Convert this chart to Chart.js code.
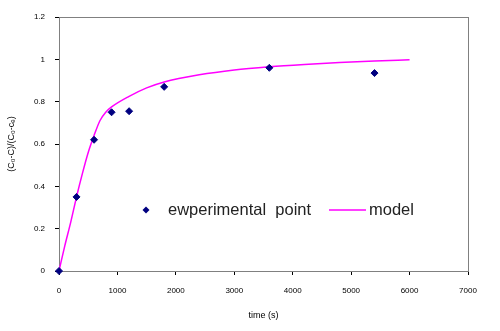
<!DOCTYPE html>
<html>
<head>
<meta charset="utf-8">
<script src="https://cdn.jsdelivr.net/npm/chart.js@4/dist/chart.umd.min.js"></script>
<style>
  html, body { margin: 0; padding: 0; background: #fff; }
  #wrap { width: 500px; height: 331px; }
</style>
</head>
<body>
<div id="wrap"><canvas id="c"></canvas></div>
<script>
// measured points (time in s, normalised concentration)
const timeExp = [0, 300, 600, 900, 1200, 1800, 3600, 5400];
const ratioExp = [0, 0.35, 0.62, 0.75, 0.755, 0.87, 0.96, 0.935];

// model curve
const timeModel = [0, 100, 200, 300, 400, 500, 600, 700, 800, 900, 1200, 1500, 1800, 2400, 3000, 3600, 4200, 4800, 5400, 6000];
const ratioModel = [0, 0.12, 0.23, 0.35, 0.46, 0.56, 0.64, 0.71, 0.75, 0.775, 0.825, 0.865, 0.893, 0.927, 0.95, 0.965, 0.976, 0.985, 0.992, 0.998];

const xTicks = [0, 1000, 2000, 3000, 4000, 5000, 6000, 7000];
const yTicks = [0, 0.2, 0.4, 0.6, 0.8, 1, 1.2];

const FONT = 'Liberation Sans, Arial, sans-serif';
const POINT_COLOR = '#000080';
const LINE_COLOR = '#ff00ff';

const toXY = (xs, ys) => xs.map((x, i) => ({ x, y: ys[i] }));

// grey frame round the plot (top/right), drawn before the datasets
const framePlugin = {
    id: 'frame',
    beforeDatasetsDraw(chart) {
        const { ctx, chartArea: a } = chart;
        ctx.save();
        ctx.strokeStyle = '#808080';
        ctx.lineWidth = 1;
        ctx.strokeRect(a.left + 0.5, a.top + 0.5, a.right - a.left, a.bottom - a.top);
        ctx.restore();
    },
};

// legend sits inside the plot, in one row, like the original spreadsheet chart
const innerLegend = {
    id: 'innerLegend',
    afterDraw(chart) {
        const { ctx } = chart;
        const ds = chart.data.datasets;
        const y = 210;
        ctx.save();
        ctx.font = '16.5px ' + FONT;
        ctx.textBaseline = 'middle';

        // diamond marker
        const mx = 146, r = 3.5;
        ctx.fillStyle = POINT_COLOR;
        ctx.beginPath();
        ctx.moveTo(mx, y - r); ctx.lineTo(mx + r, y); ctx.lineTo(mx, y + r); ctx.lineTo(mx - r, y);
        ctx.closePath(); ctx.fill();

        ctx.fillStyle = '#222';
        ctx.fillText(ds[0].label, 168, y);

        ctx.strokeStyle = LINE_COLOR;
        ctx.lineWidth = 1.5;
        ctx.beginPath(); ctx.moveTo(329, y); ctx.lineTo(366, y); ctx.stroke();
        ctx.fillText(ds[1].label, 369, y);
        ctx.restore();
    },
};

new Chart(document.getElementById('c'), {
    type: 'scatter',
    data: {
        datasets: [
            {
                label: 'ewperimental  point',
                data: toXY(timeExp, ratioExp),
                pointStyle: 'rectRot',
                pointRadius: 3.5,
                pointBackgroundColor: POINT_COLOR,
                pointBorderColor: POINT_COLOR,
                showLine: false,
                clip: false,
                order: 0,
            },
            {
                label: 'model',
                data: toXY(timeModel, ratioModel),
                showLine: true,
                borderColor: LINE_COLOR,
                borderWidth: 1.5,
                pointRadius: 0,
                cubicInterpolationMode: 'monotone',
                order: 1,
            },
        ],
    },
    options: {
        responsive: true,
        maintainAspectRatio: false,
        animation: false,
        devicePixelRatio: 1,
        layout: { padding: { top: 17, right: 32, left: 0, bottom: 0 } },
        plugins: { legend: { display: false }, tooltip: { enabled: false } },
        scales: {
            x: {
                type: 'linear',
                min: 0, max: 7000,
                afterBuildTicks: s => { s.ticks = xTicks.map(v => ({ value: v })); },
                afterFit: s => { s.height = 60; },
                grid: { drawOnChartArea: false, drawTicks: true, tickLength: 4, color: '#000' },
                border: { color: '#000', width: 1 },
                ticks: { color: '#000', font: { family: FONT, size: 8 }, padding: 11, maxRotation: 0, callback: v => String(v) },
                title: { display: true, text: 'time (s)', color: '#000', font: { family: FONT, size: 9 }, padding: 10 },
            },
            y: {
                type: 'linear',
                min: 0, max: 1.2,
                afterBuildTicks: s => { s.ticks = yTicks.map(v => ({ value: v })); },
                afterFit: s => { s.width = 59; },
                grid: { drawOnChartArea: false, drawTicks: true, tickLength: 4, color: '#000' },
                border: { color: '#000', width: 1 },
                ticks: { color: '#000', font: { family: FONT, size: 8 }, padding: 10, callback: v => String(v) },
                title: { display: true, text: '(C\u2080-C)/(C\u2080-c\u2091)', color: '#000', font: { family: FONT, size: 9 }, padding: 6 },
            },
        },
    },
    plugins: [framePlugin, innerLegend],
});
</script>
</body>
</html>
